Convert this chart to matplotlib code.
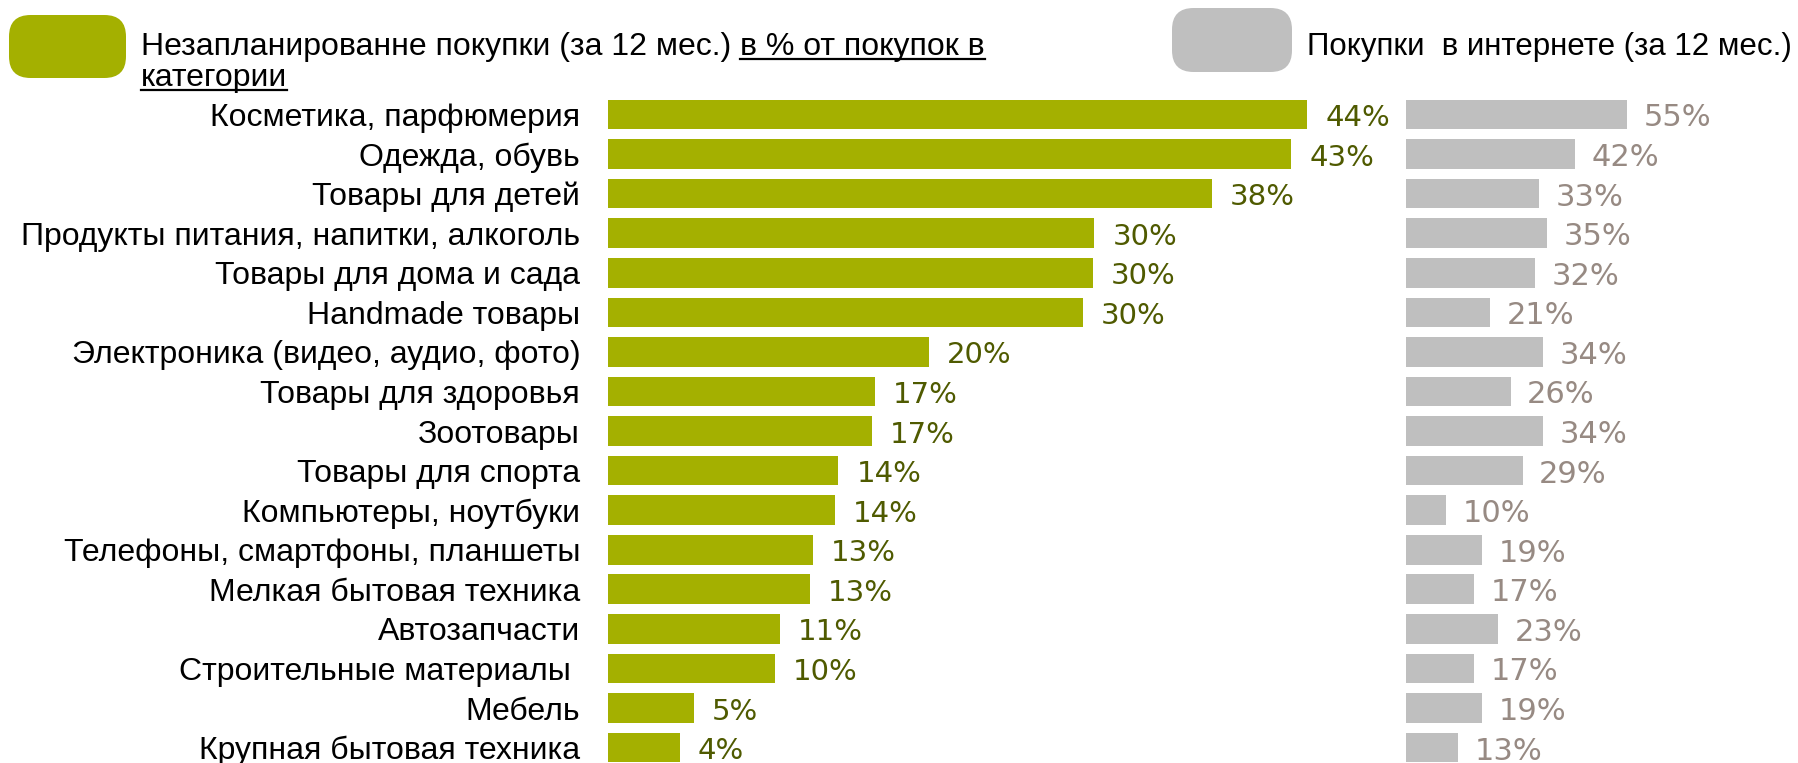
import numpy as np
import matplotlib.pyplot as plt
from matplotlib.patches import FancyBboxPatch
from matplotlib.lines import Line2D

categories = [
    "Косметика, парфюмерия",
    "Одежда, обувь",
    "Товары для детей",
    "Продукты питания, напитки, алкоголь",
    "Товары для дома и сада",
    "Handmade товары",
    "Электроника (видео, аудио, фото)",
    "Товары для здоровья",
    "Зоотовары",
    "Товары для спорта",
    "Компьютеры, ноутбуки",
    "Телефоны, смартфоны, планшеты",
    "Мелкая бытовая техника",
    "Автозапчасти",
    "Строительные материалы ",
    "Мебель",
    "Крупная бытовая техника",
]
# unplanned purchases, % of purchases in category (bar lengths)
unplanned = [44.0, 43.0, 38.0, 30.6, 30.5, 29.9, 20.2, 16.8, 16.6, 14.5, 14.3,
             12.9, 12.7, 10.8, 10.5, 5.4, 4.5]
unplanned_labels = ["44%", "43%", "38%", "30%", "30%", "30%", "20%", "17%", "17%",
                    "14%", "14%", "13%", "13%", "11%", "10%", "5%", "4%"]
# online purchases (12 months)
online = [55, 42, 33, 35, 32, 21, 34, 26, 34, 29, 10, 19, 17, 23, 17, 19, 13]
online_labels = [f"{v}%" for v in online]

legend_green = "Незапланированне покупки (за 12 мес.) "
legend_green_u1 = "в % от покупок в"
legend_green_u2 = "категории"
legend_gray = "Покупки  в интернете (за 12 мес.)"

GREEN = "#A4B000"
GREEN_TXT = "#4F5A00"
GRAY = "#BFBFBF"
GRAY_TXT = "#978A83"
SANS = ["Liberation Sans"]

W, H = 1798, 763
fig = plt.figure(figsize=(W / 100, H / 100), dpi=100)

top_px = 94.75
ax_h = (H - top_px) / H
y = np.arange(len(categories))

ax1 = fig.add_axes([608 / W, 0, (1390 - 608) / W, ax_h])
ax1.barh(y, unplanned, height=0.75, color=GREEN, edgecolor="none")
ax1.set_xlim(0, (1390 - 608) / 15.89)
ax1.set_ylim(16.39, -0.5)
ax1.set_yticks(y)
ax1.set_yticklabels(categories, fontsize=23, family=SANS)
ax1.tick_params(axis="y", length=0, pad=20)
ax1.set_xticks([])
for v, lab, yy in zip(unplanned, unplanned_labels, y):
    ax1.annotate(lab, (v, yy), xytext=(13, -8.3), textcoords="offset points",
                 va="baseline", ha="left", fontsize=21, color=GREEN_TXT,
                 family="DejaVu Sans")

ax2 = fig.add_axes([1406 / W, 0, (W - 1406) / W, ax_h])
ax2.barh(y, online, height=0.75, color=GRAY, edgecolor="none")
ax2.set_xlim(0, (W - 1406) / 4.02)
ax2.set_ylim(16.39, -0.5)
ax2.set_xticks([])
ax2.set_yticks([])
for v, lab, yy in zip(online, online_labels, y):
    ax2.annotate(lab, (v, yy), xytext=(12, -8.6), textcoords="offset points",
                 va="baseline", ha="left", fontsize=22, color=GRAY_TXT,
                 family="DejaVu Sans")

for ax in (ax1, ax2):
    for s in ax.spines.values():
        s.set_visible(False)
    ax.patch.set_alpha(0)

# legend boxes
def px_box(x0, y0, x1, y1, color):
    b = FancyBboxPatch((x0 / W, 1 - y1 / H), (x1 - x0) / W, (y1 - y0) / H,
                       boxstyle="round,pad=0,rounding_size=0.012",
                       transform=fig.transFigure, facecolor=color,
                       edgecolor="none", mutation_aspect=W / H)
    fig.add_artist(b)

px_box(9, 15, 126, 78, GREEN)
px_box(1172, 8, 1292, 72, GRAY)

fig.canvas.draw()
renderer = fig.canvas.get_renderer()

t1 = fig.text(141 / W, 1 - 55 / H, legend_green, fontsize=23, family=SANS,
              va="baseline", ha="left")
bb = t1.get_window_extent(renderer)
t2 = fig.text(bb.x1 / W, 1 - 55 / H, legend_green_u1, fontsize=23, family=SANS,
              va="baseline", ha="left")
bb2 = t2.get_window_extent(renderer)
fig.add_artist(Line2D([bb2.x0 / W, bb2.x1 / W], [1 - 59 / H, 1 - 59 / H],
                      transform=fig.transFigure, color="black", lw=1.6))
t3 = fig.text(141 / W, 1 - 86 / H, legend_green_u2, fontsize=23, family=SANS,
              va="baseline", ha="left")
bb3 = t3.get_window_extent(renderer)
fig.add_artist(Line2D([bb3.x0 / W, bb3.x1 / W], [1 - 90 / H, 1 - 90 / H],
                      transform=fig.transFigure, color="black", lw=1.6))

fig.text(1307 / W, 1 - 55 / H, legend_gray, fontsize=22.5, family=SANS,
         va="baseline", ha="left")

fig.savefig("out.png", dpi=100)
